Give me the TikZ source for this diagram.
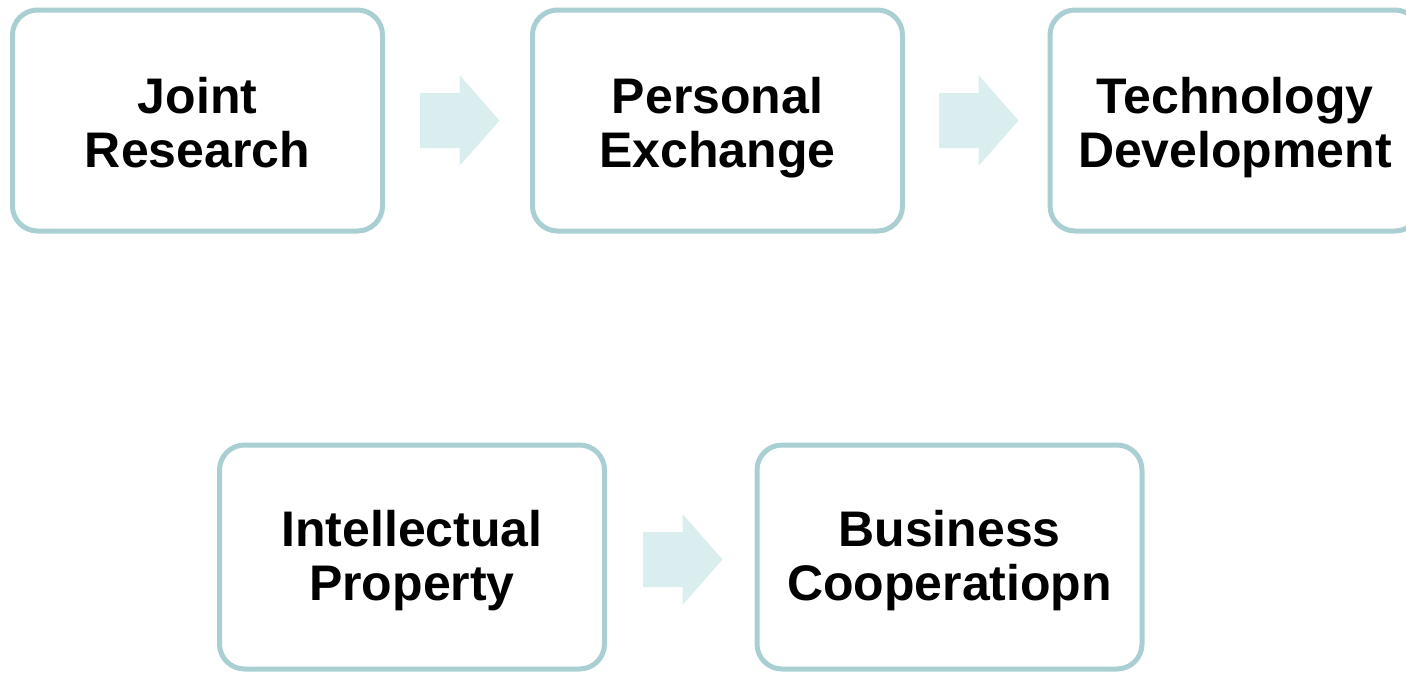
\documentclass[tikz,border=0pt]{standalone}
\usepackage{fontspec}
\setmainfont{Liberation Sans}
\definecolor{boxline}{HTML}{A9CFD3}
\definecolor{arrowfill}{HTML}{DAEDEF}
\begin{document}
\begin{tikzpicture}[x=1pt,y=-1pt,
  stepbox/.style={draw=boxline, line width=5pt, rounded corners=25pt, fill=white,
    align=center, inner sep=0pt, text depth=0pt, font=\fontsize{50}{54}\selectfont\bfseries},
  topbox/.style={stepbox, minimum width=370pt, minimum height=221pt, text height=93pt},
  botbox/.style={stepbox, minimum width=385pt, minimum height=224pt, text height=87pt},
  blockarrow/.style={fill=arrowfill, draw=none}]
\useasboundingbox (0,0) rectangle (1406,673);
\node[topbox] (jr) at (197.5,120.5) {Joint\\Research};
\node[topbox] (pe) at (717.5,120.5) {Personal\\Exchange};
\node[topbox] (td) at (1235,120.5) {Technology\\Development};
\node[botbox] (ip) at (412,557) {Intellectual\\Property};
\node[botbox] (bc) at (949.5,557) {Business\\Cooperatiopn};
% block arrows: start coordinate = tail centre
\coordinate (a1) at (420,120.5);
\coordinate (a2) at (939,120.5);
\coordinate (a3) at (643,559.5);
\foreach \a in {a1,a2,a3}{
  \fill[blockarrow] (\a) ++(0,-27.5) -- ++(39.5,0) -- ++(0,-18) -- ++(40,45.5)
    -- ++(-40,45.5) -- ++(0,-18) -- ++(-39.5,0) -- cycle;
}
\end{tikzpicture}
\end{document}
